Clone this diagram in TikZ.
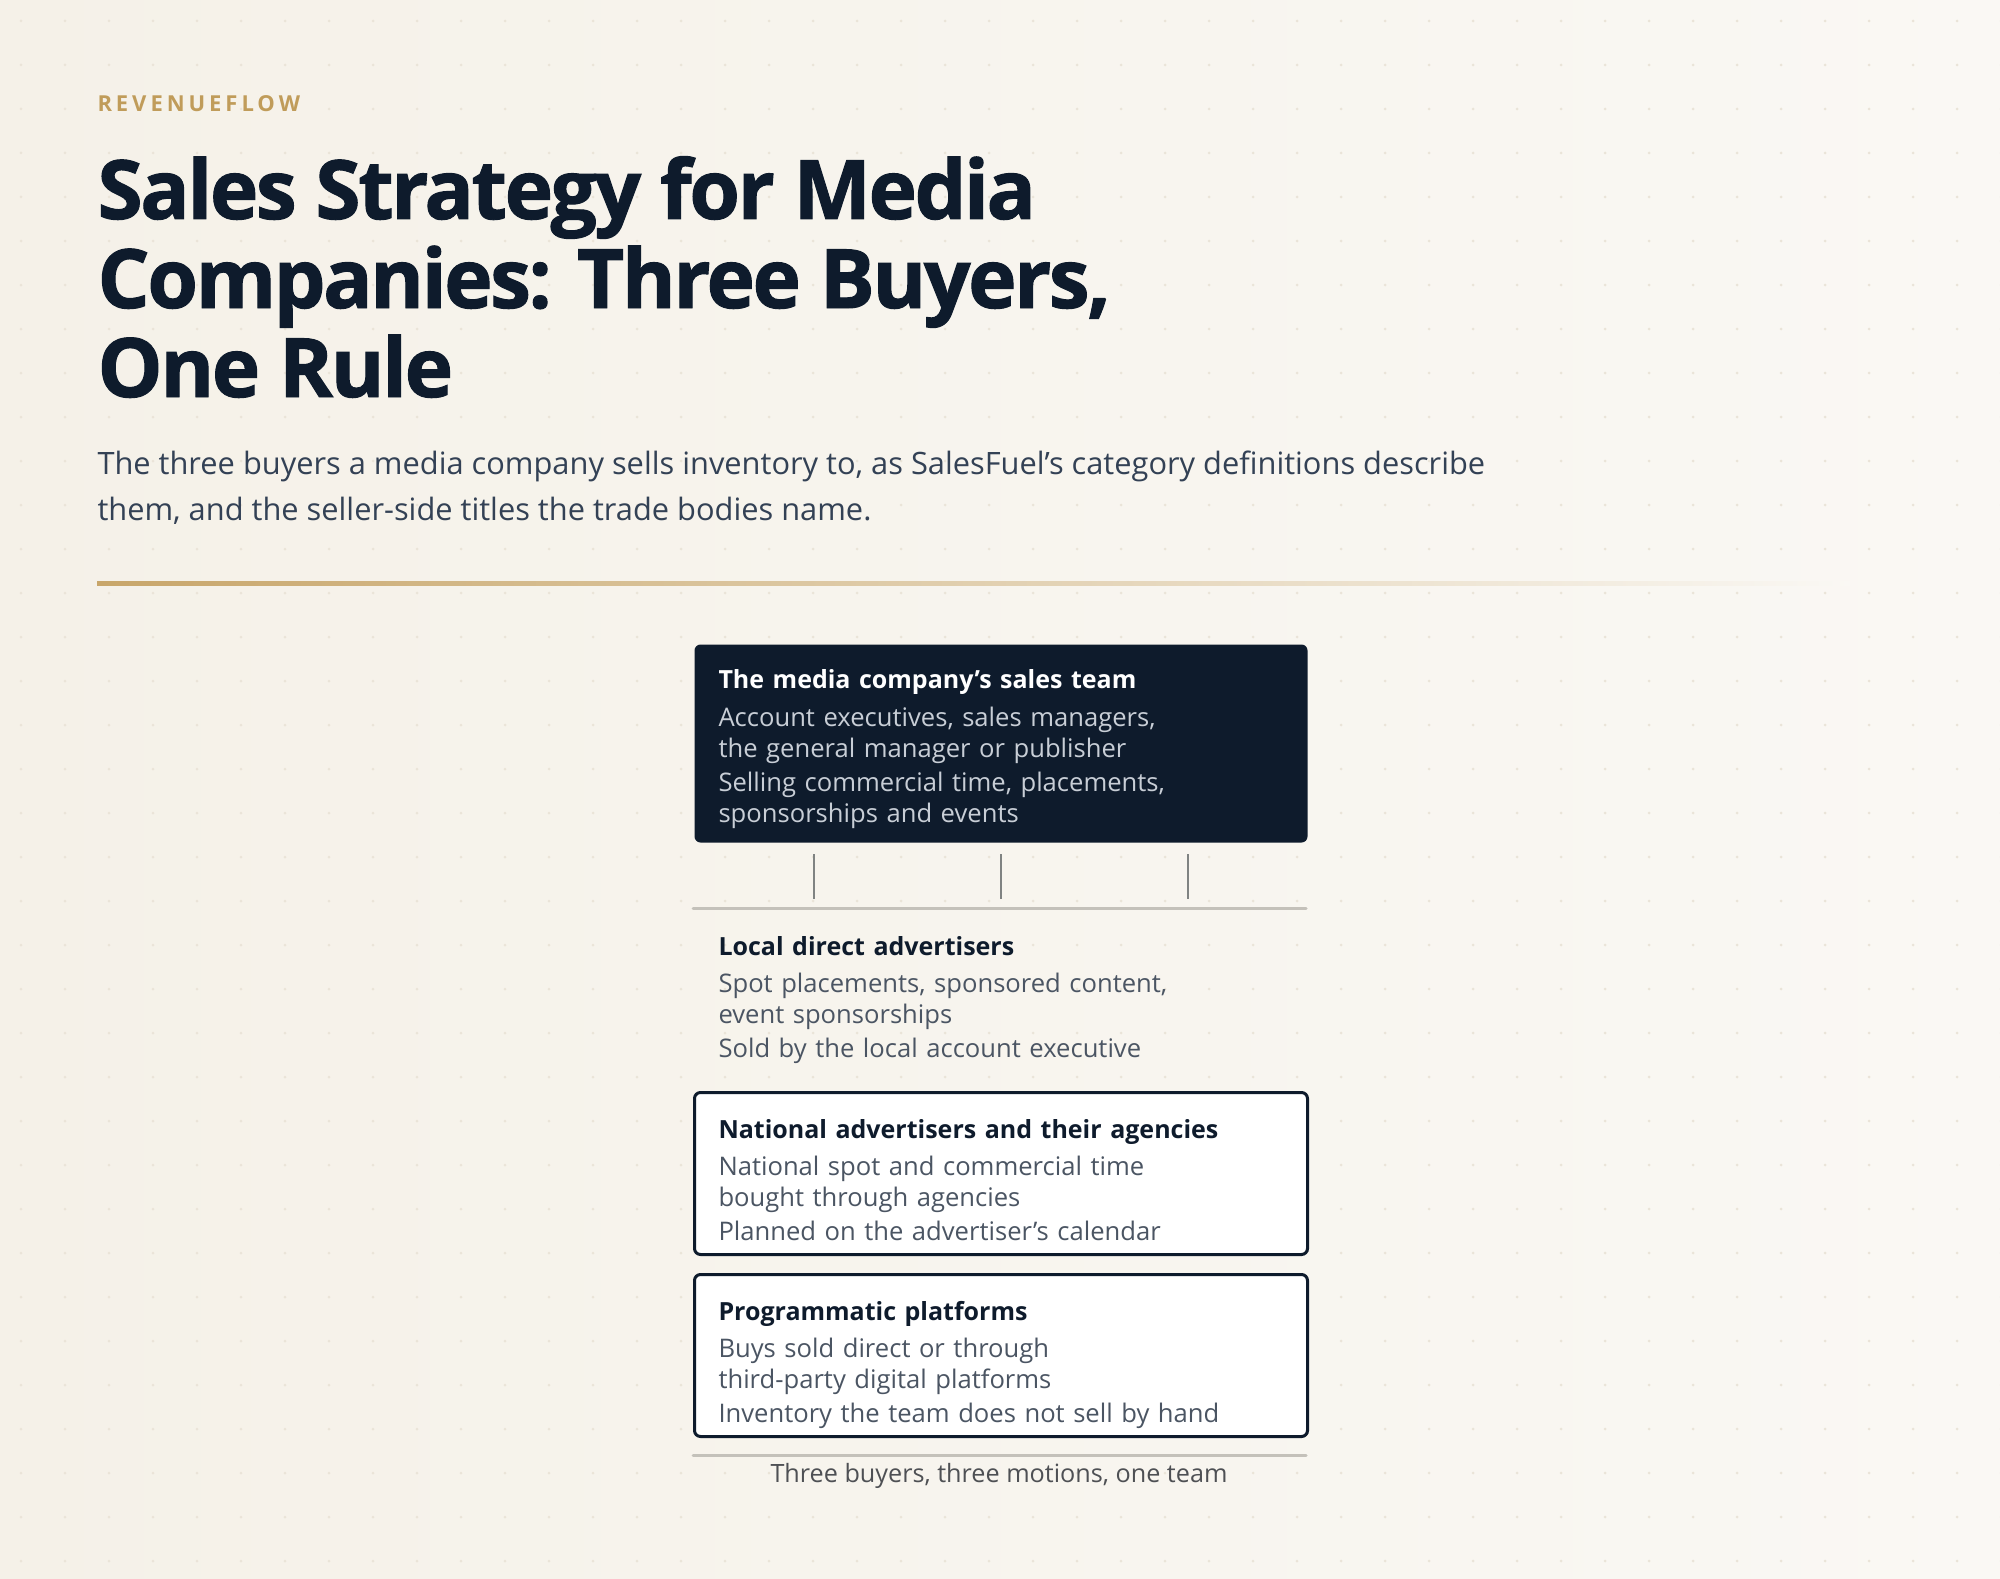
\documentclass[tikz,border=0pt]{standalone}
\usepackage{fontspec}
\setmainfont{Open Sans}
\newfontfamily\headfont{Open Sans}[LetterSpace=18]
\newfontfamily\titlefont{Open Sans}[LetterSpace=-3, FakeBold=1.2]
\definecolor{creamA}{RGB}{245,241,232}
\definecolor{creamB}{RGB}{250,248,244}
\definecolor{dotgrey}{RGB}{234,228,216}
\definecolor{navy}{RGB}{14,27,44}
\definecolor{slate}{RGB}{51,65,85}
\definecolor{bodygrey}{RGB}{75,85,99}
\definecolor{paletext}{RGB}{200,206,214}
\definecolor{goldtext}{RGB}{192,156,90}
\definecolor{goldrule}{RGB}{200,166,106}
\definecolor{tickgrey}{RGB}{128,131,130}
\definecolor{busgrey}{RGB}{196,193,186}
\definecolor{footgrey}{RGB}{78,80,84}

\tikzset{every picture/.style={line width=0.5pt}}
\tikzset{
  buyerbox/.style={anchor=north west, rounded corners=3pt, line width=1.5pt, draw=navy, fill=white,
    text width=282.5pt, inner xsep=12pt, inner ysep=0pt, minimum height=81pt, align=left,
    font=\fontsize{12.8}{15.5}\selectfont, text=bodygrey},
  teambox/.style={buyerbox, draw=none, fill=navy, text=paletext, minimum height=99pt},
  plainbox/.style={buyerbox, draw=none, fill=none},
  tick/.style={draw=tickgrey, line width=1pt},
  busline/.style={draw=busgrey, line width=1.5pt, line cap=round},
  titleline/.style={anchor=base west, inner sep=0pt, text=navy, font=\titlefont\fontsize{41}{44.5}\bfseries\selectfont},
  subline/.style={anchor=base west, inner sep=0pt, text=slate, font=\fontsize{15.4}{23}\selectfont}
}
\newcommand{\boxhead}[1]{{\rule{0pt}{19.5pt}\fontsize{12.5}{15.5}\bfseries\selectfont #1}}
\newcommand{\boxend}[1][4pt]{\rule[-#1]{0pt}{#1}}

\begin{document}
\begin{tikzpicture}[x=0.5pt,y=0.5pt,yscale=-1,xscale=1]
\useasboundingbox (0,0) rectangle (2000,1578);

%Background
\shade [left color=creamA, right color=creamB] (0,0) rectangle (2000,1578);
\foreach \i in {0,...,45}
  \foreach \j in {0,...,35}
    \fill [dotgrey] (21+44*\i,21+44*\j) circle (1.5);

% Text Node
\node [anchor=base west, inner sep=0pt, text=goldtext] (brand) at (97,112)
  {\headfont\fontsize{11}{13}\bfseries\selectfont REVENUEFLOW};
% Text Node
\node [titleline] (title1) at (97,219) {Sales Strategy for Media};
\node [titleline] (title2) at (97,308) {Companies: Three Buyers,};
\node [titleline] (title3) at (97,397) {One Rule};
% Text Node
\node [subline] (sub1) at (97,474) {The three buyers a media company sells inventory to, as SalesFuel's category definitions describe};
\node [subline] (sub2) at (97,520) {them, and the seller-side titles the trade bodies name.};

%Gold rule
\shade [left color=goldrule, middle color=goldrule!55!creamA, right color=creamB] (97,581) rectangle (1850,585);

%Shape: Team box
\node [teambox] (team) at (693,643) {{\color{white}\boxhead{The media company's sales team}}\\[3.5pt]
  Account executives, sales managers,\\ the general manager or publisher\\[1.5pt]
  Selling commercial time, placements,\\ sponsorships and events\boxend[7.5pt]};

%Straight Lines
\coordinate (busL) at (693,908);
\coordinate (busR) at (1306,908);
\foreach \dx in {-187,0,187}
  \draw [tick] ([xshift=\dx*0.5pt,yshift=5pt]team.south) -- ([xshift=\dx*0.5pt,yshift=-4.5pt]team.south |- busL);
\draw [busline] (busL) -- (busR);

% Text Node
\node [plainbox] (local) at (693,908) {{\color{navy}\boxhead{Local direct advertisers}}\\[3pt]
  Spot placements, sponsored content,\\ event sponsorships\\[1.5pt]
  Sold by the local account executive\boxend};

%Shape: National box
\node [buyerbox] (national) at (693,1091) {{\color{navy}\boxhead{National advertisers and their agencies}}\\[3pt]
  National spot and commercial time\\ bought through agencies\\[1.5pt]
  Planned on the advertiser's calendar\boxend};

%Shape: Programmatic box
\node [buyerbox] (programmatic) at (693,1273) {{\color{navy}\boxhead{Programmatic platforms}}\\[3pt]
  Buys sold direct or through\\ third-party digital platforms\\[1.5pt]
  Inventory the team does not sell by hand\boxend};

%Straight Lines
\coordinate (footL) at (693,1455);
\coordinate (footR) at (1306,1455);
\draw [busline] (footL) -- (footR);

% Text Node
\node [anchor=base, inner sep=0pt, text=footgrey, font=\fontsize{12.6}{14}\selectfont] (footer) at (999,1482)
  {Three buyers, three motions, one team};
\end{tikzpicture}
\end{document}
